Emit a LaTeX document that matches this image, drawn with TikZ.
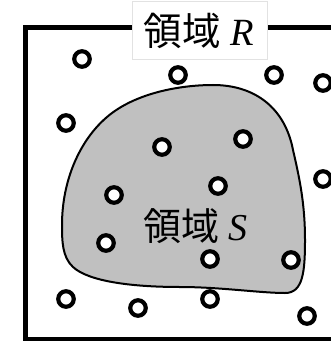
\documentclass[tikz,border=0pt]{standalone}
\usepackage{fontspec}
\setmainfont{Liberation Serif}
\newfontfamily\cjk{Noto Sans CJK JP}
\definecolor{blobgray}{HTML}{C0C0C0}
\definecolor{boxedge}{HTML}{E2E2E2}
\tikzset{
  dot/.style={circle, draw=black, line width=4.2pt, fill=white, minimum size=15.5pt, inner sep=0pt},
  frame/.style={draw=black, line width=4.5pt},
  region/.style={draw=black, line width=2pt, fill=blobgray},
  titlebox/.style={draw=boxedge, line width=0.8pt, fill=white, minimum width=135pt, minimum height=58pt, inner sep=0pt},
  labeltext/.style={inner sep=0pt}
}
\begin{document}
\begin{tikzpicture}[x=1pt,y=-1pt]
\useasboundingbox (0,0) rectangle (331,342);
% outer frame (region R)
\draw[frame] (25.5,27.5) rectangle (350,339);
% region S
\draw[region] (213,85) .. controls (255,85) and (285,108) .. (293,150)
  .. controls (300,180) and (305,205) .. (305,240)
  .. controls (305,272) and (303,293) .. (285,293)
  .. controls (260,293) and (220,287) .. (180,287)
  .. controls (130,287) and (88,281) .. (73,267)
  .. controls (62,257) and (62,240) .. (62,225)
  .. controls (62,180) and (80,140) .. (107,117)
  .. controls (135,93) and (180,85) .. (213,85) -- cycle;
% title of R
\node[titlebox] (rbox) at (199.5,30) {};
\node[labeltext] (rlabel) at (199,30.5) {\fontsize{38.5}{40}\selectfont{\cjk 領域} \textit{R}};
% label of S
\node[labeltext] (slabel) at (195.5,226.5) {\fontsize{38}{40}\selectfont{\cjk 領域} \textit{S}};
% points
\node[dot] (c1) at (82,59) {};
\node[dot] (c2) at (178,75) {};
\node[dot] (c3) at (274,75) {};
\node[dot] (c4) at (323,83) {};
\node[dot] (c5) at (66,123) {};
\node[dot] (c6) at (162,147) {};
\node[dot] (c7) at (243,139) {};
\node[dot] (c8) at (218,186) {};
\node[dot] (c9) at (323,179) {};
\node[dot] (c10) at (114,195) {};
\node[dot] (c11) at (106,243) {};
\node[dot] (c12) at (210,259) {};
\node[dot] (c13) at (291,260) {};
\node[dot] (c14) at (66,299) {};
\node[dot] (c15) at (138,308) {};
\node[dot] (c16) at (210,299) {};
\node[dot] (c17) at (307,316) {};
\end{tikzpicture}
\end{document}
